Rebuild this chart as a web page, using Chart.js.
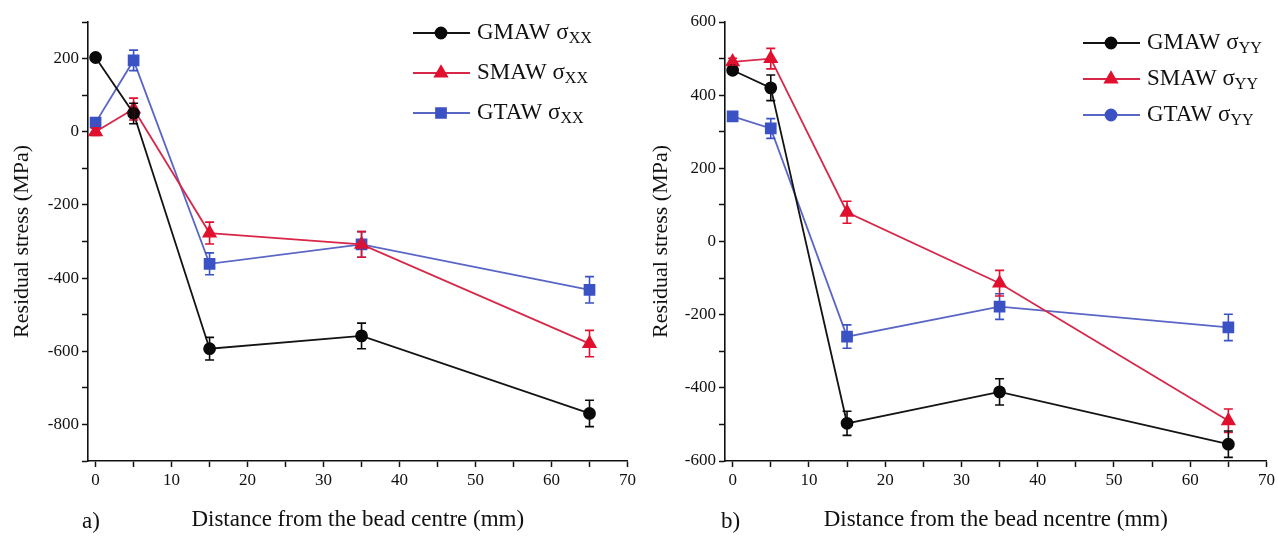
<!DOCTYPE html>
<html>
<head>
<meta charset="utf-8">
<script src="https://cdn.jsdelivr.net/npm/chart.js@4.4.0/dist/chart.umd.min.js"></script>
<style>
  body { margin: 0; background: #fff; }
  .panel { position: absolute; top: 0; width: 639px; height: 538px; }
  .tag { position: absolute; top: 508px; font-family: "Liberation Serif", serif; font-size: 23px; color: #111; }
</style>
</head>
<body>
<div class="panel" style="left:0"><canvas id="chartXX"></canvas><div class="tag" style="left:82px">a)</div></div>
<div class="panel" style="left:639px"><canvas id="chartYY"></canvas><div class="tag" style="left:82px">b)</div></div>
<script>
// distances from the bead centre (mm)
const distance = [0, 5, 15, 35, 65];
const processes = ["GMAW", "SMAW", "GTAW"];

// sigma XX (MPa) and error bars
const gmawXX = [203, 50, -593, -558, -770];
const smawXX = [0, 62, -277, -308, -579];
const gtawXX = [25, 195, -361, -308, -432];
const gmawXXErr = [6, 28, 31, 35, 36];
const smawXXErr = [10, 30, 30, 35, 36];
const gtawXXErr = [10, 28, 30, 35, 36];

// sigma YY (MPa) and error bars
const gmawYY = [468, 420, -497, -411, -554];
const smawYY = [491, 500, 80, -114, -490];
const gtawYY = [342, 309, -260, -178, -235];
const gmawYYErr = [10, 35, 33, 36, 36];
const smawYYErr = [10, 28, 30, 35, 32];
const gtawYYErr = [8, 27, 32, 35, 36];

const xTicks = [0, 5, 10, 15, 20, 25, 30, 35, 40, 45, 50, 55, 60, 65, 70];
const yTicksXX = [-900, -800, -700, -600, -500, -400, -300, -200, -100, 0, 100, 200, 300];
const yTicksYY = [-600, -500, -400, -300, -200, -100, 0, 100, 200, 300, 400, 500, 600];

const lineColors = ["#141414", "#d8284a", "#5a66c6"];
const pointColors = ["#0a0a0a", "#e0102e", "#3b52c4"];
const pointStyles = ["circle", "triangle", "rect"];
const pointSizes = [5.5, 7, 7];
const FONT = '"Liberation Serif", "Times New Roman", serif';

const errorBars = {
  id: "errorBars",
  afterDatasetsDraw(chart) {
    const { ctx, scales: { x, y } } = chart;
    ctx.save();
    chart.data.datasets.slice().reverse().forEach(ds => {
      ctx.strokeStyle = ds.pointBackgroundColor;
      ctx.lineWidth = 1.6;
      ds.data.forEach((p, i) => {
        const e = ds.errors[i];
        const px = x.getPixelForValue(p.x);
        const top = y.getPixelForValue(p.y + e);
        const bot = y.getPixelForValue(p.y - e);
        ctx.beginPath();
        ctx.moveTo(px, top); ctx.lineTo(px, bot);
        ctx.moveTo(px - 4.5, top); ctx.lineTo(px + 4.5, top);
        ctx.moveTo(px - 4.5, bot); ctx.lineTo(px + 4.5, bot);
        ctx.stroke();
      });
    });
    ctx.restore();
  }
};

// legend with a subscript, drawn inside the plot
const subLegend = {
  id: "subLegend",
  afterDraw(chart, args, opts) {
    const ctx = chart.ctx;
    ctx.save();
    chart.data.datasets.forEach((ds, i) => {
      const y = opts.top + i * opts.gap;
      ctx.strokeStyle = ds.borderColor;
      ctx.lineWidth = 1.8;
      ctx.beginPath();
      ctx.moveTo(opts.left, y);
      ctx.lineTo(opts.left + 57, y);
      ctx.stroke();
      ctx.fillStyle = ds.pointBackgroundColor;
      ctx.strokeStyle = ds.pointBackgroundColor;
      const style = opts.styles[i];
      Chart.helpers.drawPoint(ctx, {
        pointStyle: style, radius: style === "circle" ? 5.5 : ds.pointRadius, rotation: 0, borderWidth: 1
      }, opts.left + 28, y);
      ctx.fillStyle = "#111";
      ctx.textBaseline = "middle";
      ctx.font = "23px " + FONT;
      const label = ds.label + " σ";
      ctx.fillText(label, opts.left + 64, y);
      const w = ctx.measureText(label).width;
      ctx.font = "16px " + FONT;
      ctx.fillText(opts.sub, opts.left + 64 + w, y + 6);
    });
    ctx.restore();
  }
};

function makeChart(id, values, errors, yTicks, xTitle, legend) {
  const datasets = processes.map((name, i) => ({
    label: name,
    data: distance.map((d, j) => ({ x: d, y: values[i][j] })),
    errors: errors[i],
    showLine: true,
    borderColor: lineColors[i],
    borderWidth: 1.8,
    pointBackgroundColor: pointColors[i],
    pointBorderColor: pointColors[i],
    pointStyle: pointStyles[i],
    pointRadius: pointSizes[i],
    pointHoverRadius: pointSizes[i]
  }));

  return new Chart(document.getElementById(id), {
    type: "scatter",
    data: { datasets: datasets },
    options: {
      responsive: true,
      maintainAspectRatio: false,
      animation: false,
      layout: { padding: { top: 22, right: 9, left: 0, bottom: 0 } },
      plugins: {
        legend: { display: false },
        tooltip: { enabled: false },
        subLegend: legend
      },
      scales: {
        x: {
          type: "linear",
          min: -1,
          max: 70,
          afterBuildTicks: s => { s.ticks = xTicks.map(v => ({ value: v })); },
          afterFit: s => { s.height = 77; },
          grid: { drawOnChartArea: false, tickLength: 6, tickWidth: 1.5, tickColor: "#111" },
          border: { color: "#111", width: 1.6 },
          ticks: {
            color: "#111", padding: 3, maxRotation: 0, autoSkip: false,
            font: { family: FONT, size: 17 },
            callback: v => (v % 10 === 0 ? v : "")
          },
          title: {
            display: true, text: xTitle, color: "#111",
            font: { family: FONT, size: 23 }, padding: { top: 0, bottom: 4 }
          }
        },
        y: {
          min: yTicks[0],
          max: yTicks[yTicks.length - 1],
          afterBuildTicks: s => { s.ticks = yTicks.map(v => ({ value: v })); },
          afterFit: s => { s.width = legend.axisWidth; },
          grid: { drawOnChartArea: false, tickLength: 6, tickWidth: 1.5, tickColor: "#111" },
          border: { color: "#111", width: 1.6 },
          ticks: {
            color: "#111", padding: 3, autoSkip: false,
            font: { family: FONT, size: 17 },
            callback: v => (v % 200 === 0 ? String(v) : "")
          },
          title: {
            display: true, text: "Residual stress (MPa)", color: "#111",
            font: { family: FONT, size: 22 }, padding: { top: 9, bottom: 0 }
          }
        }
      }
    },
    plugins: [errorBars, subLegend]
  });
}

makeChart("chartXX",
  [gmawXX, smawXX, gtawXX],
  [gmawXXErr, smawXXErr, gtawXXErr],
  yTicksXX,
  "Distance from the bead centre (mm)",
  { left: 413, top: 33, gap: 40, sub: "XX", styles: ["circle", "triangle", "rect"], axisWidth: 88 });

makeChart("chartYY",
  [gmawYY, smawYY, gtawYY],
  [gmawYYErr, smawYYErr, gtawYYErr],
  yTicksYY,
  "Distance from the bead ncentre (mm)",
  { left: 444, top: 43, gap: 36, sub: "YY", styles: ["circle", "triangle", "circle"], axisWidth: 86 });
</script>
</body>
</html>
